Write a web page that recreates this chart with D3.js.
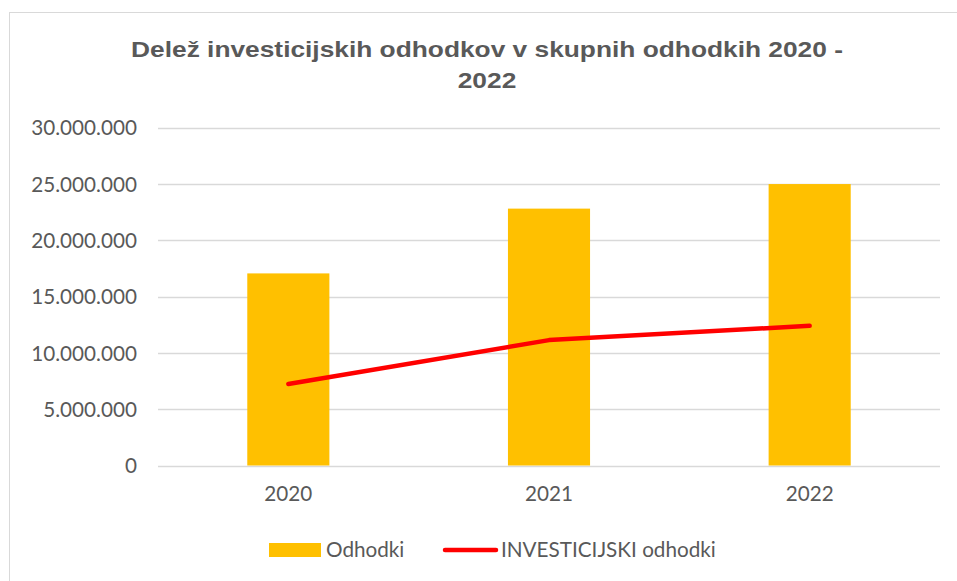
<!DOCTYPE html>
<html>
<head>
<meta charset="utf-8">
<script src="https://cdn.jsdelivr.net/npm/d3@7"></script>
<style>
  html, body { margin: 0; padding: 0; background: #fff; }
  svg { display: block; }
</style>
</head>
<body>
<svg id="chart" width="957" height="581"></svg>
<script>
// chart data
const years = ["2020", "2021", "2022"];
const odhodki = [17050000, 22800000, 24980000];
const investicijski = [7240000, 11130000, 12400000];
const yTicks = [0, 5000000, 10000000, 15000000, 20000000, 25000000, 30000000];
const titleLines = ["Delež investicijskih odhodkov v skupnih odhodkih 2020 -", "2022"];
const legendLabels = ["Odhodki", "INVESTICIJSKI odhodki"];

const width = 957, height = 581;
const margin = { left: 158, right: 17, top: 127.5, bottom: 115.5 };
const textColor = "#595959";
const labelFont = "Lato, 'Open Sans', sans-serif";
const labelSize = "20.7px";

const svg = d3.select("#chart");

// outer chart frame (cropped on the right and bottom)
svg.append("rect")
  .attr("x", 9.5).attr("y", 12.5)
  .attr("width", 980).attr("height", 600)
  .attr("fill", "#fff")
  .attr("stroke", "#d9d9d9")
  .attr("stroke-width", 1);

const x = d3.scaleBand()
  .domain(years)
  .range([margin.left, width - margin.right])
  .paddingInner(0.685)
  .paddingOuter(0.3425);

const y = d3.scaleLinear()
  .domain([0, 30000000])
  .range([height - margin.bottom, margin.top]);

const fmt = v => d3.format(",")(v).replace(/,/g, ".");

// gridlines
svg.append("g")
  .selectAll("line")
  .data(yTicks)
  .join("line")
  .attr("x1", margin.left)
  .attr("x2", width - margin.right)
  .attr("y1", d => Math.round(y(d)) + 0.5)
  .attr("y2", d => Math.round(y(d)) + 0.5)
  .attr("stroke", "#d9d9d9")
  .attr("stroke-width", 1.5);

// y axis labels
const yAxis = svg.append("g")
  .attr("transform", `translate(${margin.left - 21},0)`)
  .call(d3.axisLeft(y).tickValues(yTicks).tickFormat(fmt).tickSize(0).tickPadding(0));
yAxis.select(".domain").remove();
yAxis.selectAll("text")
  .attr("fill", textColor)
  .attr("font-family", labelFont)
  .attr("font-size", labelSize)
  .attr("dy", "0.35em");

// bars
svg.append("g")
  .selectAll("rect")
  .data(odhodki)
  .join("rect")
  .attr("x", (d, i) => x(years[i]))
  .attr("width", x.bandwidth())
  .attr("y", d => y(d))
  .attr("height", d => y(0) - y(d))
  .attr("fill", "#ffc000");

// x axis labels
const xAxis = svg.append("g")
  .attr("transform", `translate(0,${y(0) + 21})`)
  .call(d3.axisBottom(x).tickSize(0).tickPadding(0));
xAxis.select(".domain").remove();
xAxis.selectAll("text")
  .attr("fill", textColor)
  .attr("font-family", labelFont)
  .attr("font-size", labelSize)
  .attr("dy", "0.71em");

// line
const line = d3.line()
  .x((d, i) => x(years[i]) + x.bandwidth() / 2)
  .y(d => y(d));

svg.append("path")
  .datum(investicijski)
  .attr("d", line)
  .attr("fill", "none")
  .attr("stroke", "#ff0000")
  .attr("stroke-width", 4.5)
  .attr("stroke-linecap", "round")
  .attr("stroke-linejoin", "round");

// title (reference glyphs are a bit wider than tall, so stretch horizontally)
svg.append("g")
  .attr("transform", "translate(487,0) scale(1.17,1)")
  .append("text")
  .attr("text-anchor", "middle")
  .attr("fill", textColor)
  .attr("font-family", "'Liberation Sans', Arial, sans-serif")
  .attr("font-weight", "bold")
  .attr("font-size", "22.5px")
  .selectAll("tspan")
  .data(titleLines)
  .join("tspan")
  .attr("x", 0)
  .attr("y", (d, i) => 57 + i * 31)
  .text(d => d);

// legend
const legend = svg.append("g").attr("transform", "translate(0,550)");
legend.append("rect")
  .attr("x", 269).attr("y", -7)
  .attr("width", 52).attr("height", 14)
  .attr("fill", "#ffc000");
legend.append("text")
  .attr("x", 326).attr("dy", "0.35em")
  .attr("fill", textColor)
  .attr("font-family", labelFont)
  .attr("font-size", labelSize)
  .text(legendLabels[0]);
legend.append("line")
  .attr("x1", 445).attr("x2", 496)
  .attr("y1", 0).attr("y2", 0)
  .attr("stroke", "#ff0000")
  .attr("stroke-width", 4.5)
  .attr("stroke-linecap", "round");
legend.append("text")
  .attr("x", 501).attr("dy", "0.35em")
  .attr("fill", textColor)
  .attr("font-family", labelFont)
  .attr("font-size", labelSize)
  .text(legendLabels[1]);
</script>
</body>
</html>
